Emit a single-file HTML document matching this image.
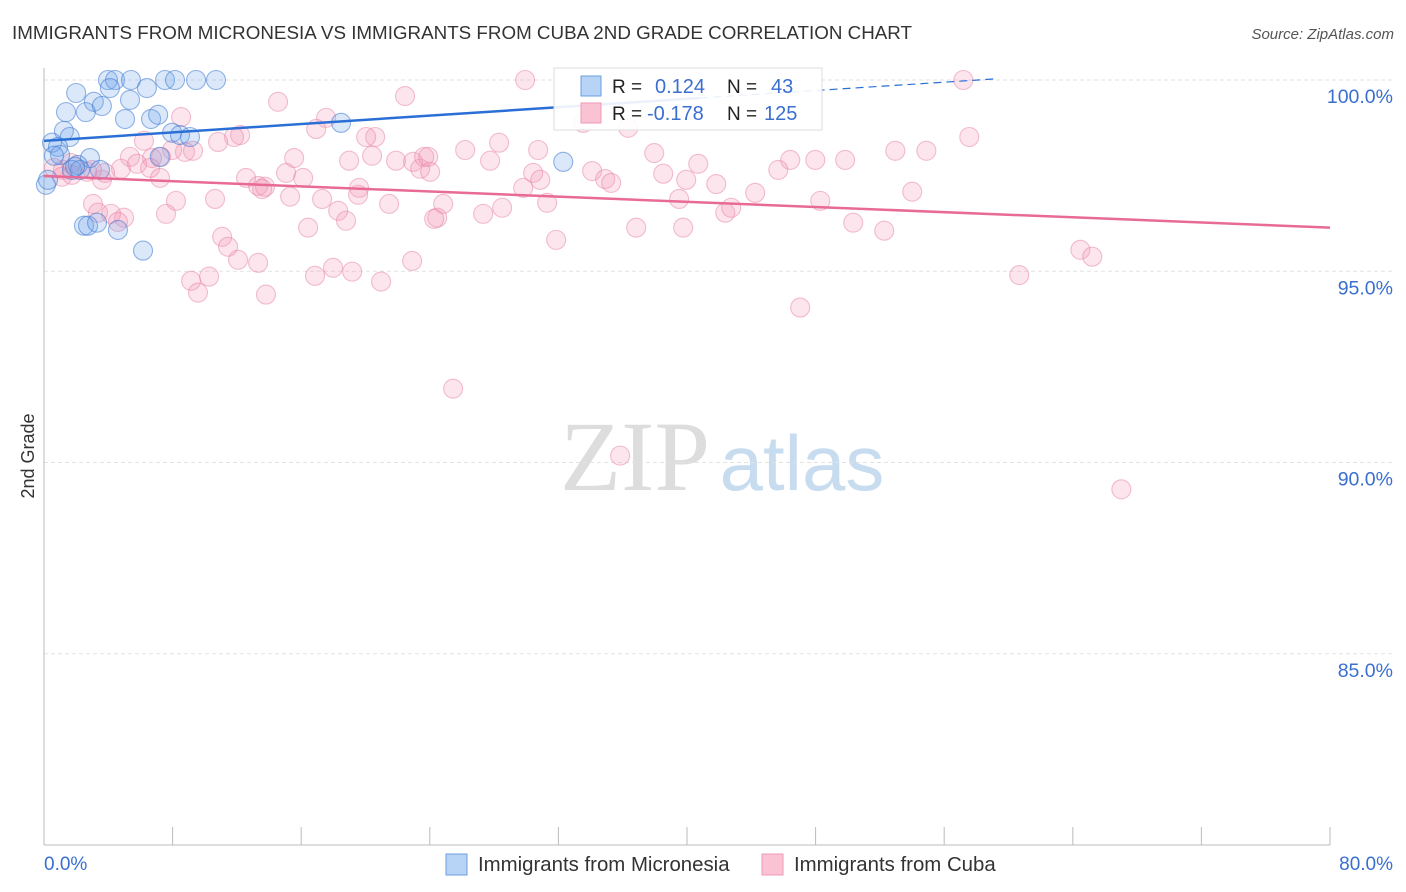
<!DOCTYPE html>
<html><head><meta charset="utf-8"><style>
body{margin:0;background:#fff;font-family:"Liberation Sans",sans-serif}
svg{display:block}
</style></head><body>
<svg id="chart" width="1406" height="892" xmlns="http://www.w3.org/2000/svg">
<text x="12" y="39" font-size="18" fill="#333" textLength="900" lengthAdjust="spacingAndGlyphs">IMMIGRANTS FROM MICRONESIA VS IMMIGRANTS FROM CUBA 2ND GRADE CORRELATION CHART</text>
<text x="1394" y="39" font-size="15" fill="#555" font-style="italic" text-anchor="end">Source: ZipAtlas.com</text>
<g>
<text x="635" y="490" font-size="100" fill="#ddd" font-family="Liberation Serif" text-anchor="middle">ZIP</text>
<text x="802" y="490" font-size="78" fill="#c8dcf0" text-anchor="middle">atlas</text>
</g>
<g id="grid"></g>
<g id="axes"></g>
<g id="pts"></g>
<g id="lines"></g>
<g>
<rect x="554" y="68" width="268" height="62" fill="#fff" fill-opacity="0.9" stroke="#ddd"/>
<rect x="581" y="76" width="20" height="20" fill="#b7d3f5" stroke="#6a9fe0"/>
<rect x="581" y="103" width="20" height="20" fill="#f9c3d4" stroke="#ee9ab6"/>
<text x="612" y="93" font-size="19" fill="#222">R =</text><text x="655" y="93" font-size="20" fill="#3a6fd0">0.124</text>
<text x="727" y="93" font-size="19" fill="#222">N =</text><text x="771" y="93" font-size="20" fill="#3a6fd0">43</text>
<text x="612" y="120" font-size="19" fill="#222">R =</text><text x="647" y="120" font-size="20" fill="#3a6fd0">-0.178</text>
<text x="727" y="120" font-size="19" fill="#222">N =</text><text x="764" y="120" font-size="20" fill="#3a6fd0">125</text>
</g>
<text x="34" y="456" font-size="18" fill="#333" text-anchor="middle" transform="rotate(-90 34 456)">2nd Grade</text>
<g>
<rect x="446" y="854" width="21" height="21" fill="#b7d3f5" stroke="#6a9fe0"/>
<text x="478" y="871" font-size="20.4" fill="#333">Immigrants from Micronesia</text>
<rect x="762" y="854" width="21" height="21" fill="#f9c3d4" stroke="#ee9ab6"/>
<text x="794" y="871" font-size="20.4" fill="#333">Immigrants from Cuba</text>
</g>
</svg>
<script>
const xMin=0,xMax=80,yMin=80,yMax=100;
const yTicks=[100,95,90,85];
const yTickLabels=["100.0%","95.0%","90.0%","85.0%"];
const xTickLabels=["0.0%","80.0%"];
const blueX=[3.98,4.42,5.41,7.53,8.15,9.46,10.7,4.1,6.4,2.0,3.1,5.35,3.6,1.37,2.6,5.04,6.66,7.1,1.24,1.6,7.97,8.46,9.08,18.48,0.5,0.87,1.0,0.62,2.86,7.2,2.1,1.74,2.24,3.48,32.3,0.12,2.49,2.74,3.3,4.6,6.16,0.25,1.93];
const blueY=[100,100,100,100,100,100,100,99.79,99.79,99.66,99.43,99.48,99.32,99.16,99.16,98.98,98.98,99.09,98.67,98.51,98.62,98.56,98.51,98.88,98.36,98.25,98.04,98.02,97.96,97.99,97.78,97.65,97.65,97.65,97.86,97.26,96.19,96.19,96.27,96.08,95.54,97.39,97.73];
const pinkX=[29.93,57.19,14.56,22.46,8.53,17.55,20.6,16.93,20.04,36.34,33.54,28.31,12.2,11.82,10.83,6.22,8.77,9.27,7.97,5.35,6.72,7.28,15.56,18.98,20.41,21.9,22.96,23.4,23.65,23.9,26.2,27.75,30.74,37.96,40.7,46.42,47.98,49.84,52.96,54.89,57.56,4.79,5.79,6.6,7.22,3.61,2.68,3.8,2.99,1.18,0.62,1.68,1.12,1.74,12.57,13.32,13.75,15.06,16.12,19.6,19.54,24.02,29.81,30.43,30.87,34.1,34.91,35.28,38.52,39.95,41.82,44.24,45.68,54.01,3.05,3.36,4.98,4.17,4.6,8.21,10.64,13.57,15.31,17.3,18.3,18.79,21.47,24.83,24.46,27.32,28.5,31.3,39.51,42.38,42.75,48.29,50.34,52.27,7.59,16.43,24.27,31.86,36.84,39.76,11.08,11.45,12.07,13.32,19.17,22.9,9.15,10.27,9.58,13.81,16.86,17.98,20.97,47.04,60.67,64.47,65.21,25.45,35.84,67.02];
const pinkY=[100,100,99.43,99.58,99.03,99.01,98.51,98.72,98.51,98.75,98.88,98.36,98.56,98.51,98.38,98.41,98.12,98.15,98.17,97.99,97.96,97.99,97.96,97.89,98.02,97.89,97.86,97.68,97.99,97.99,98.17,97.89,98.17,98.09,97.81,97.91,97.91,97.91,98.15,98.15,98.51,97.68,97.81,97.7,97.44,97.39,97.6,97.57,97.65,97.65,97.7,97.83,97.47,97.52,97.44,97.23,97.21,97.57,97.44,97.18,97.0,97.6,97.18,97.57,97.39,97.62,97.41,97.31,97.55,97.39,97.28,97.05,97.65,97.08,96.76,96.53,96.4,96.5,96.29,96.84,96.89,97.15,96.95,96.89,96.58,96.32,96.76,96.76,96.4,96.5,96.66,96.79,96.89,96.53,96.66,96.84,96.27,96.06,96.5,96.14,96.37,95.82,96.14,96.14,95.9,95.64,95.3,95.22,94.99,95.27,94.75,94.86,94.44,94.39,94.88,95.09,94.73,94.05,94.9,95.56,95.38,91.93,90.18,89.3];
const blueLineX=[0,40.8,59.2];
const blueLineY=[98.41,99.53,100.03];
const pinkLineX=[0,80];
const pinkLineY=[97.49,96.14];
const L=44,R=1330,T=80,B=845;
const sx=v=>L+(v-xMin)/(xMax-xMin)*(R-L);
const sy=v=>B-(v-yMin)/(yMax-yMin)*(B-T);
const NS="http://www.w3.org/2000/svg";
function mk(tag,parent,attrs){const e=document.createElementNS(NS,tag);for(const k in attrs)e.setAttribute(k,attrs[k]);parent.appendChild(e);return e;}
const grid=document.getElementById('grid'),axes=document.getElementById('axes'),pts=document.getElementById('pts'),lines=document.getElementById('lines');
yTicks.forEach((t,i)=>{
  const g=mk('line',grid,{x1:L,x2:1394,y1:sy(t),y2:sy(t),stroke:'#e2e2e2','stroke-dasharray':'4,3'});
  
  
  const tx=mk('text',axes,{x:1393,y:sy(t)+23,'font-size':19.5,fill:'#3a6fd0','text-anchor':'end'});
  tx.textContent=yTickLabels[i];
  
  
});
const ax=mk('line',axes,{x1:L,x2:L,y1:68,y2:B,stroke:'#bbb'});


const bx=mk('line',axes,{x1:L,x2:R,y1:B,y2:B,stroke:'#bbb'});


for(let i=0;i<=10;i++){
  const v=xMin+i*(xMax-xMin)/10;
  const tk=mk('line',axes,{x1:sx(v),x2:sx(v),y1:827,y2:B,stroke:'#bbb'});
  
  
}
[[xMin,'start',44],[xMax,'end',1393]].forEach((d,i)=>{
  const tx=mk('text',axes,{x:d[2],y:870,'font-size':19,fill:'#3a6fd0','text-anchor':d[1]});
  tx.textContent=xTickLabels[i];
  
  
});
pinkX.forEach((x,i)=>{
  const c=mk('circle',pts,{cx:sx(x),cy:sy(pinkY[i]),r:9.5,fill:'rgba(244,150,180,0.25)',stroke:'rgba(232,130,165,0.5)','stroke-width':1.1});
  
  
});
blueX.forEach((x,i)=>{
  const c=mk('circle',pts,{cx:sx(x),cy:sy(blueY[i]),r:9.5,fill:'rgba(110,165,235,0.25)',stroke:'rgba(60,120,210,0.55)','stroke-width':1.1});
  
  
});
const bl=mk('line',lines,{x1:sx(blueLineX[0]),y1:sy(blueLineY[0]),x2:sx(blueLineX[1]),y2:sy(blueLineY[1]),stroke:'#2a6fd6','stroke-width':2.5});


const bd=mk('line',lines,{x1:sx(blueLineX[1]),y1:sy(blueLineY[1]),x2:sx(blueLineX[2]),y2:sy(blueLineY[2]),stroke:'#2a6fd6','stroke-width':1.2,'stroke-dasharray':'8,5'});


const pl=mk('line',lines,{x1:sx(pinkLineX[0]),y1:sy(pinkLineY[0]),x2:sx(pinkLineX[1]),y2:sy(pinkLineY[1]),stroke:'#e86a96','stroke-width':2.5});


</script>
</body></html>
